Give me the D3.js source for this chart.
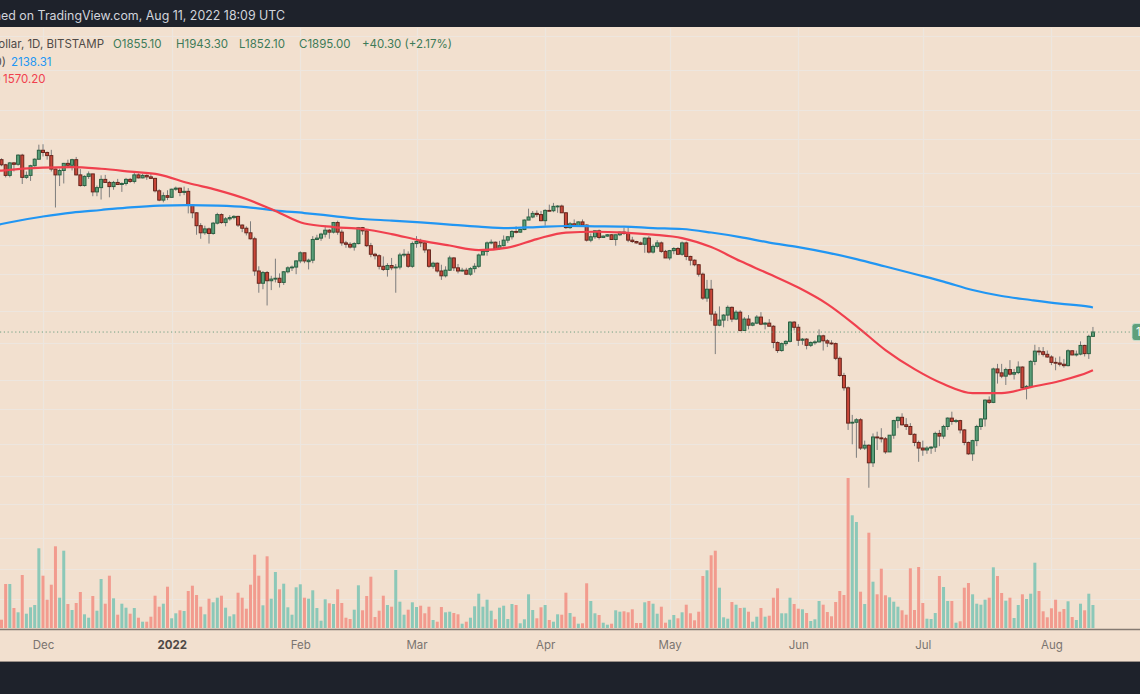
<!DOCTYPE html>
<html><head><meta charset="utf-8">
<script src="https://cdn.jsdelivr.net/npm/d3@7"></script>
<style>
html,body{margin:0;padding:0;background:#f2e0cf;overflow:hidden}
svg{display:block;font-family:Inter,"Noto Sans",Roboto,sans-serif}
</style></head><body>
<svg id="chart" width="1140" height="694"></svg>
<script>
// ---------- DATA (ETH/USD, 1D, Bitstamp; first day 2021-11-21) ----------
const startDate = "2021-11-21";
const opens = [
 4430,4320,4100,4360,4330,4530,4060,4100,4300,4440,
 4640,4590,4520,4230,4110,4200,4350,4310,4430,4110,3900,4080,4130,3780,3860,4020,3960,3880,3960,3920,3940,4020,3980,4110,4050,4100,4070,4040,3800,3630,3710,
 3680,3830,3850,3770,3790,3540,3410,3200,3090,3150,3080,3240,3380,3250,3310,3330,3350,3210,3160,3090,3000,2560,2410,2540,2440,2460,2470,2420,2550,2600,2610,
 2690,2800,2680,2700,2990,3010,3070,3130,3100,3250,3100,2940,2920,2880,2930,3170,3120,2900,2780,2760,2620,2580,2630,2600,2610,2770,2780,2620,
 2930,2960,2940,2840,2620,2660,2560,2500,2570,2730,2600,2560,2570,2520,2590,2620,2770,2820,2940,2950,2860,2900,2980,3030,3110,3100,3140,3290,3340,3400,3380,
 3280,3450,3445,3520,3525,3410,3170,3230,3190,3260,3210,2980,3030,3120,3020,3040,3060,2990,3060,3100,3080,2980,2960,2940,2920,3010,2810,2890,2940,2820,
 2730,2830,2860,2780,2940,2750,2700,2640,2520,2240,2340,2070,1960,2010,2060,2140,2020,2090,1910,2020,1960,1980,2040,1970,1980,1950,1800,1730,1790,1810,1990,
 1940,1820,1830,1775,1800,1805,1860,1815,1795,1790,1665,1530,1440,1210,1215,1230,1070,1085,995,1130,1125,1120,1050,1140,1225,1245,1200,1190,1145,1100,
 1070,1060,1070,1075,1150,1135,1190,1240,1220,1225,1170,1100,1040,1110,1190,1235,1355,1340,1580,1550,1525,1575,1540,1552,1595,1440,1450,1640,1725,1720,1698,
 1676,1632,1627,1617,1606,1728,1693,1700,1774,1704,1855.1
];
const highs = [
 4460,4340,4380,4380,4550,4560,4180,4320,4460,4770,
 4780,4610,4650,4240,4240,4360,4430,4450,4490,4230,4100,4180,4130,3900,4100,4110,3990,3990,4030,3960,4050,4050,4150,4140,4130,4120,4130,4050,3830,3770,3810,
 3840,3880,3860,3880,3850,3550,3420,3240,3200,3170,3260,3410,3400,3340,3370,3370,3360,3220,3190,3270,3030,2620,2560,2560,2500,2720,2530,2560,2620,2630,2700,
 2820,2800,2720,3040,3060,3090,3200,3150,3260,3280,3140,2970,2950,2950,3180,3180,3150,2940,2800,2780,2750,2660,2730,2650,2800,2850,2820,2960,
 3040,3000,2970,2850,2680,2670,2640,2620,2760,2740,2650,2600,2600,2610,2660,2790,2840,2960,2990,2960,2970,3050,3040,3130,3190,3150,3300,3480,3440,3450,3440,
 3470,3550,3580,3540,3550,3420,3260,3300,3270,3300,3220,3080,3130,3140,3050,3070,3070,3060,3110,3170,3180,3030,2970,2960,3020,3040,2920,2980,2960,2840,
 2840,2880,2880,2960,2960,2760,2710,2650,2540,2450,2450,2100,2150,2070,2160,2150,2110,2110,2040,2060,1990,2060,2090,1990,2020,1960,1810,1800,1820,2000,2000,
 1970,1840,1840,1810,1820,1920,1870,1830,1820,1800,1680,1550,1450,1260,1240,1240,1110,1090,1150,1160,1180,1130,1140,1230,1250,1270,1240,1210,1150,1110,
 1110,1080,1080,1160,1170,1200,1245,1280,1235,1230,1175,1105,1115,1200,1240,1360,1380,1590,1620,1620,1590,1650,1580,1640,1600,1460,1650,1780,1760,1760,1730,
 1690,1670,1680,1660,1740,1730,1730,1810,1780,1870,1943.3
];
const lows = [
 4290,4060,4060,4180,4300,3930,4030,3990,4280,4430,
 4500,4430,4180,3500,3890,3940,4260,4200,4100,3880,3880,4030,3700,3700,3640,3950,3680,3820,3910,3780,3900,3950,3940,4040,4040,4010,4030,3770,3610,3590,3630,
 3680,3800,3700,3720,3400,3320,3060,3000,3060,2930,3060,3220,3230,3190,3280,3300,3180,3100,3050,2990,2500,2300,2340,2160,2330,2420,2360,2390,2530,2560,2520,
 2660,2660,2580,2660,2980,2970,3020,3000,3080,3060,2900,2870,2860,2830,2920,3060,2880,2740,2710,2580,2560,2490,2570,2300,2580,2740,2600,2600,
 2870,2880,2800,2600,2590,2540,2450,2480,2560,2560,2530,2550,2510,2500,2540,2600,2770,2760,2920,2860,2840,2890,2940,2990,3080,3090,3130,3290,3320,3340,3270,
 3200,3440,3420,3410,3410,3150,3150,3180,3180,3200,2960,2950,3000,2990,3020,3030,2990,2900,3040,3060,2950,2940,2930,2910,2800,2790,2790,2860,2800,2730,
 2700,2780,2770,2760,2700,2630,2620,2490,2220,2200,2000,1700,1950,1940,2000,1990,2010,1900,1910,1920,1950,1970,1960,1920,1950,1750,1710,1720,1770,1800,1910,
 1770,1780,1740,1760,1780,1800,1730,1760,1780,1650,1520,1420,1170,1090,1020,1060,1060,880,975,1060,1100,1040,1050,1120,1180,1195,1170,1140,1080,1000,
 1030,1040,1040,1050,1080,1120,1170,1200,1210,1150,1085,1035,1005,1080,1170,1190,1330,1335,1470,1510,1460,1530,1500,1540,1430,1360,1440,1610,1690,1680,1670,
 1610,1570,1600,1590,1600,1690,1680,1690,1680,1660,1852.1
];
const closes = [
 4320,4100,4360,4330,4530,4060,4100,4300,4440,4640,
 4590,4520,4230,4110,4200,4350,4310,4430,4110,3900,4080,4130,3780,3860,4020,3960,3880,3960,3920,3940,4020,3980,4110,4050,4100,4070,4040,3800,3630,3710,3680,
 3830,3850,3770,3790,3540,3410,3200,3090,3150,3080,3240,3380,3250,3310,3330,3350,3210,3160,3090,3000,2560,2410,2540,2440,2460,2470,2420,2550,2600,2610,2690,
 2800,2690,2700,2990,3010,3070,3130,3100,3250,3100,2940,2920,2880,2930,3170,3120,2900,2780,2760,2620,2580,2630,2600,2610,2770,2780,2620,2930,
 2960,2940,2840,2620,2660,2560,2500,2570,2730,2600,2560,2570,2520,2590,2620,2770,2820,2940,2950,2860,2900,2980,3030,3110,3100,3140,3290,3340,3400,3380,3280,
 3450,3445,3520,3525,3410,3170,3230,3190,3260,3210,2980,3030,3120,3020,3040,3060,2990,3060,3100,3080,2980,2960,2940,2920,3010,2810,2890,2940,2820,2730,
 2830,2860,2780,2940,2750,2700,2640,2520,2240,2340,2070,1960,2010,2060,2140,2020,2090,1910,2020,1960,1980,2040,1970,1980,1950,1800,1730,1790,1810,1990,1940,
 1820,1830,1775,1800,1805,1860,1815,1795,1790,1665,1530,1440,1210,1215,1230,1070,1085,995,1130,1125,1120,1050,1140,1225,1245,1200,1190,1145,1100,1070,
 1060,1070,1075,1150,1135,1190,1240,1220,1225,1170,1100,1040,1110,1190,1235,1355,1340,1580,1550,1525,1575,1540,1552,1595,1440,1450,1640,1725,1720,1698,1676,
 1632,1627,1617,1606,1728,1693,1700,1774,1704,1855.1,1895
];
// volume, thousand ETH
const volumes = [
 8.3,44,44,20,15.7,53,14.3,20.7,23,79.7,
 52.3,28.3,43.3,81.7,30.3,77.3,24,18,25,36,13.7,10.3,32,17.3,49,24.3,52.3,29.7,13.3,24.3,20.3,14.3,20,10.3,6.3,6.3,11.3,32.3,21.3,24.3,41.3,
 9.7,14.7,17.7,17,37,42.3,33,21.3,13.7,29.3,25.7,30.3,32.3,20.3,11.7,13.7,35.3,30.3,19.3,43.3,73.3,52.3,22.7,71.7,29.3,56,38.7,44.3,20.7,13.3,40.7,
 43.7,30.3,29.3,37.7,20,7.3,28.7,24.7,24,38.7,25,10.3,9,18.3,42.7,17.7,32,51.3,11,17.3,32.3,23,21.3,58,26.3,13.3,18.3,25.7,
 21,22.3,14.7,21.3,8,6.3,21,15.7,16.3,15,13.7,4.3,6.3,10.3,21.7,34.3,21.3,28.3,17.3,8.7,20.3,22.3,9,24,23,4.7,8.7,33.7,18,9.7,20.7,
 23,8,6.3,13.7,13.3,35.3,15,11.3,4.3,4.7,44.7,27,14.7,13,5.3,3.3,4.3,17.7,16.3,16.7,15.7,18.7,5,5,25.7,27,24.3,14.3,21.3,5.3,
 8.3,13,9.7,15.7,23.3,14.7,7.7,16.3,52,57.7,72.7,77.3,40.3,10.7,9.3,26,23.3,20,20.3,16.3,6.3,11.3,20,11.3,12.3,30.3,39.7,14.7,14.7,30.3,24,
 19.3,18.7,15,7,8.7,27,23.3,16,11.7,26,37,33,150,112.7,106,36.3,24,95.3,46.3,33.7,59.3,32.7,30.7,26.3,21.3,17.7,13.3,59.7,18,61,
 25,9.3,9,15,52,41,27,27,5.3,6.7,40.3,45,33.7,24.3,23.3,28.3,30.3,60.7,52,35,27.3,30.3,10,23,33.7,29,34.3,65.3,37,16.7,10.7,
 19.7,28.3,16.3,19,26.7,11,8,24.3,17.7,34.3,23
];
// moving averages (sample dates)
const maDates = ["2021-11-20","2021-11-21","2021-12-01","2021-12-08","2021-12-15","2021-12-22","2021-12-29",
 "2022-01-05","2022-01-12","2022-01-19","2022-01-26","2022-02-02","2022-02-09","2022-02-16","2022-02-23",
 "2022-03-02","2022-03-09","2022-03-16","2022-03-23","2022-03-30","2022-04-06","2022-04-13","2022-04-20","2022-04-27",
 "2022-05-04","2022-05-11","2022-05-18","2022-05-25","2022-06-01","2022-06-08","2022-06-15","2022-06-22","2022-06-29",
 "2022-07-06","2022-07-13","2022-07-20","2022-07-27","2022-08-03","2022-08-10","2022-08-11"];
const ma50 = [4190,4199,4261,4272,4236,4178,4117,3948,3814,3649,3440,3234,3179,3148,3071,
 2974,2902,2838,2873,2996,3094,3106,3094,3063,3011,2880,2688,2522,2359,2175,1952,1734,1579,
 1467,1403,1403,1445,1489,1556,1570.2];
const ma200 = [3210,3226,3348,3414,3457,3503,3534,3543,3534,3508,3448,3406,3356,3307,3282,
 3253,3218,3185,3163,3179,3195,3190,3185,3163,3148,3094,3026,2945,2880,2803,2715,2617,2522,
 2430,2331,2263,2219,2179,2147,2138.31];
// horizontal grid levels (price) and month ticks
const gridPrices = [8145,6889,5657,4896,4141,3525,2909,2518,2105,1798,1496,1295,1092,932,812,686,589,508];
const monthTicks = ["2021-12-01","2022-01-01","2022-02-01","2022-03-01","2022-04-01","2022-05-01","2022-06-01","2022-07-01","2022-08-01"];
const monthLabels = ["Dec","2022","Feb","Mar","Apr","May","Jun","Jul","Aug"];
const lastPrice = 1895.00;
// texts
const headerText = "Published on TradingView.com, Aug 11, 2022 18:09 UTC";
const symbolText = "Ethereum / U.S. Dollar, 1D, BITSTAMP";
const ohlcTexts = ["O1855.10","H1943.30","L1852.10","C1895.00","+40.30 (+2.17%)"];
const ma200Label = "MA (200, close, 0)";
const ma50Label = "MA (50, close, 0)";

(function () {
// ---------- LAYOUT ----------
const W = 1140, H = 694;
const paneTop = 28, paneBottom = 629, axisBottom = 662;
const colors = {
  bg:"#f2e0cf", dark:"#1e222b", grid:"#ede6df",
  upFill:"#5a9e78", upStroke:"#2a6042", dnFill:"#c94739", dnStroke:"#67261d", wick:"#7d7d7d",
  volUp:"#8cc8b8", volDn:"#f29b8e", ma50:"#f0404e", ma200:"#2196f3", legendGreen:"#3d7b58"
};

const parse = d3.utcParse("%Y-%m-%d");
const n = closes.length;
const d0 = parse(startDate);
const dates = d3.utcDay.range(d0, d3.utcDay.offset(d0, n));

const x = d3.scaleUtc().domain([parse("2021-12-01"), parse("2022-08-01")]).range([43, 1051.45]);
const y = d3.scaleLog().domain([1000, 4000]).range([461.8, 180.4]);
const yv = d3.scaleLinear().domain([0, 150]).range([628, 478]);

const svg = d3.select("#chart");
svg.append("rect").attr("width", W).attr("height", H).attr("fill", colors.bg);

// grid
const grid = svg.append("g");
grid.selectAll("line.h").data(gridPrices).join("line")
  .attr("x1", 0).attr("x2", W).attr("y1", d => Math.round(y(d)) + 0.5).attr("y2", d => Math.round(y(d)) + 0.5)
  .attr("stroke", colors.grid).attr("stroke-width", 1.2);
grid.selectAll("line.v").data(monthTicks).join("line")
  .attr("x1", d => Math.round(x(parse(d))) + 0.5).attr("x2", d => Math.round(x(parse(d))) + 0.5)
  .attr("y1", paneTop).attr("y2", paneBottom)
  .attr("stroke", colors.grid).attr("stroke-width", 1.2);

// volume
const idx = d3.range(n);
const isUp = i => closes[i] >= opens[i];
svg.append("g").selectAll("rect").data(idx).join("rect")
  .attr("x", i => x(dates[i]) - 1.5).attr("width", 3)
  .attr("y", i => yv(volumes[i])).attr("height", i => yv(0) - yv(volumes[i]))
  .attr("fill", i => isUp(i) ? colors.volUp : colors.volDn);

// candles
const cg = svg.append("g");
cg.selectAll("line").data(idx).join("line")
  .attr("x1", i => x(dates[i])).attr("x2", i => x(dates[i]))
  .attr("y1", i => y(highs[i])).attr("y2", i => y(lows[i]))
  .attr("stroke", colors.wick).attr("stroke-width", 1);
cg.selectAll("rect").data(idx).join("rect")
  .attr("x", i => x(dates[i]) - 1.5).attr("width", 3)
  .attr("y", i => y(Math.max(opens[i], closes[i])))
  .attr("height", i => Math.max(0.8, Math.abs(y(opens[i]) - y(closes[i]))))
  .attr("fill", i => isUp(i) ? colors.upFill : colors.dnFill)
  .attr("stroke", i => isUp(i) ? colors.upStroke : colors.dnStroke)
  .attr("stroke-width", 1);

// moving averages
const maPts = (vals) => maDates.map((d, i) => ({ date: parse(d), v: vals[i] }));
const line = d3.line().x(d => x(d.date)).y(d => y(d.v)).curve(d3.curveMonotoneX);
svg.append("path").datum(maPts(ma200)).attr("d", line).attr("fill", "none")
  .attr("stroke", colors.ma200).attr("stroke-width", 2.2);
svg.append("path").datum(maPts(ma50)).attr("d", line).attr("fill", "none")
  .attr("stroke", colors.ma50).attr("stroke-width", 2.2);

// last price line + label
const yl = y(lastPrice);
svg.append("line").attr("x1", 0).attr("x2", 1130).attr("y1", yl).attr("y2", yl)
  .attr("stroke", "#6f9e82").attr("stroke-width", 1).attr("stroke-dasharray", "1.2 2.6");
svg.append("rect").attr("x", 1132).attr("y", yl - 8.5).attr("width", 60).attr("height", 17).attr("rx", 3)
  .attr("fill", "#5e9f7b").attr("stroke", "#cfe3d6").attr("stroke-width", 0.8);
svg.append("text").attr("x", 1136).attr("y", yl + 4).attr("fill", "#ffffff").attr("font-size", 11.5)
  .text(lastPrice.toFixed(2));

// time axis
svg.append("line").attr("x1", 0).attr("x2", W).attr("y1", paneBottom + 0.5).attr("y2", paneBottom + 0.5)
  .attr("stroke", "#857a72").attr("stroke-width", 1.5);
const axis = d3.axisBottom(x).tickValues(monthTicks.map(parse)).tickSize(0).tickFormat((d, i) => monthLabels[i]);
const ax = svg.append("g").attr("transform", `translate(0,${paneBottom + 9})`).call(axis);
ax.select(".domain").remove();
ax.selectAll("text").attr("font-size", 11.5)
  .attr("font-family", "Inter, 'Noto Sans', sans-serif")
  .attr("font-weight", (d, i) => monthLabels[i] === "2022" ? 700 : 400)
  .attr("fill", (d, i) => monthLabels[i] === "2022" ? "#4e4946" : "#7a7470");
svg.append("line").attr("x1", 0).attr("x2", W).attr("y1", axisBottom - 0.5).attr("y2", axisBottom - 0.5)
  .attr("stroke", "#9a8f87").attr("stroke-width", 1);
svg.append("rect").attr("x", 0).attr("y", axisBottom).attr("width", W).attr("height", H - axisBottom).attr("fill", colors.dark);

// header
svg.append("rect").attr("x", 0).attr("y", 0).attr("width", W).attr("height", 27).attr("fill", colors.dark);
svg.append("text").attr("x", 285).attr("y", 20).attr("text-anchor", "end")
  .attr("fill", "#d1d4dc").attr("font-size", 12.4).text(headerText);

// legend
const lg = svg.append("g").attr("font-size", 11.5);
lg.append("text").attr("x", 104).attr("y", 48).attr("text-anchor", "end").attr("fill", "#4f4a47").text(symbolText);
const ohlcX = [113, 176, 239, 299, 362];
lg.selectAll("text.o").data(ohlcTexts).join("text").attr("class", "o")
  .attr("x", (d, i) => ohlcX[i]).attr("y", 48).attr("fill", colors.legendGreen).text(d => d);
lg.append("text").attr("x", 6).attr("y", 66).attr("text-anchor", "end").attr("fill", "#4f4a47").text(ma200Label);
lg.append("text").attr("x", 11).attr("y", 66).attr("fill", colors.ma200).text(d3.format(".2f")(ma200[ma200.length - 1]));
lg.append("text").attr("x", 1).attr("y", 83).attr("text-anchor", "end").attr("fill", "#4f4a47").text(ma50Label);
lg.append("text").attr("x", 3).attr("y", 83).attr("fill", colors.ma50).text(d3.format(".2f")(ma50[ma50.length - 1]));
})();
</script>
</body></html>
